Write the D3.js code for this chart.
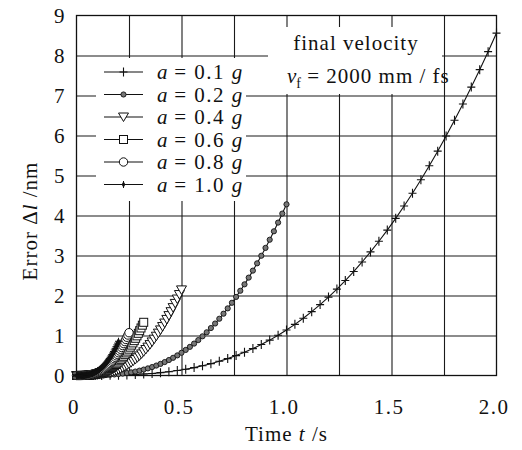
<!DOCTYPE html>
<html><head><meta charset="utf-8">
<script src="https://cdn.jsdelivr.net/npm/d3@7"></script>
<style>
body{margin:0;background:#fff;}
svg{display:block;font-family:"Liberation Serif","Times New Roman",serif;}
</style></head>
<body><svg id="c" width="522" height="450"></svg>
<script>
// ---- data ----
const legendLabels = ["0.1","0.2","0.4","0.6","0.8","1.0"];
const t01 = [0,0.04,0.08,0.12,0.16,0.2,0.24,0.28,0.32,0.36,0.4,0.44,0.48,0.52,0.56,0.6,0.64,0.68,0.72,0.76,0.8,0.84,0.88,0.92,0.96,1.0,1.04,1.08,1.12,1.16,1.2,1.24,1.28,1.32,1.36,1.4,1.44,1.48,1.52,1.56,1.6,1.64,1.68,1.72,1.76,1.8,1.84,1.88,1.92,1.96,2.0];
const e01 = [0,0.0001,0.0006,0.0019,0.0045,0.0088,0.0152,0.0242,0.0362,0.0518,0.0712,0.0951,0.1237,0.1577,0.1974,0.2433,0.2958,0.3553,0.4224,0.4974,0.5807,0.6728,0.7741,0.8849,1.0057,1.1369,1.2787,1.4316,1.5959,1.7719,1.9599,2.1603,2.3732,2.599,2.838,3.0902,3.356,3.6356,3.929,4.2364,4.558,4.8939,5.244,5.6085,5.9874,6.3806,6.7882,7.21,7.646,8.0961,8.56];
const t02 = [0,0.02,0.04,0.06,0.08,0.1,0.12,0.14,0.16,0.18,0.2,0.22,0.24,0.26,0.28,0.3,0.32,0.34,0.36,0.38,0.4,0.42,0.44,0.46,0.48,0.5,0.52,0.54,0.56,0.58,0.6,0.62,0.64,0.66,0.68,0.7,0.72,0.74,0.76,0.78,0.8,0.82,0.84,0.86,0.88,0.9,0.92,0.94,0.96,0.98,1.0];
const e02 = [0,0.00003,0.0003,0.0009,0.0022,0.0044,0.0076,0.0121,0.0181,0.0259,0.0356,0.0475,0.0619,0.0788,0.0987,0.1216,0.1479,0.1777,0.2112,0.2487,0.2904,0.3364,0.387,0.4425,0.5028,0.5684,0.6394,0.7158,0.7979,0.8859,0.98,1.0801,1.1866,1.2995,1.419,1.5451,1.678,1.8178,1.9645,2.1182,2.279,2.4469,2.622,2.8042,2.9937,3.1903,3.3941,3.605,3.823,4.048,4.28];
const t04 = [0,0.01,0.02,0.03,0.04,0.05,0.06,0.07,0.08,0.09,0.1,0.11,0.12,0.13,0.14,0.15,0.16,0.17,0.18,0.19,0.2,0.21,0.22,0.23,0.24,0.25,0.26,0.27,0.28,0.29,0.3,0.31,0.32,0.33,0.34,0.35,0.36,0.37,0.38,0.39,0.4,0.41,0.42,0.43,0.44,0.45,0.46,0.47,0.48,0.49,0.5];
const e04 = [0,0.00002,0.00014,0.0005,0.0011,0.0022,0.0038,0.0061,0.0091,0.0129,0.0178,0.0238,0.0309,0.0394,0.0493,0.0608,0.0739,0.0888,0.1056,0.1243,0.1452,0.1682,0.1935,0.2212,0.2514,0.2842,0.3197,0.3579,0.399,0.443,0.49,0.5401,0.5933,0.6498,0.7095,0.7726,0.839,0.9089,0.9823,1.0591,1.1395,1.2235,1.311,1.4021,1.4969,1.5952,1.6971,1.8025,1.9115,2.024,2.14];
const t06 = [0,0.0064,0.0128,0.0192,0.0256,0.032,0.0384,0.0448,0.0512,0.0576,0.064,0.0704,0.0768,0.0832,0.0896,0.096,0.1024,0.1088,0.1152,0.1216,0.128,0.1344,0.1408,0.1472,0.1536,0.16,0.1664,0.1728,0.1792,0.1856,0.192,0.1984,0.2048,0.2112,0.2176,0.224,0.2304,0.2368,0.2432,0.2496,0.256,0.2624,0.2688,0.2752,0.2816,0.288,0.2944,0.3008,0.3072,0.3136,0.32];
const e06 = [0,0.00001,0.00009,0.0003,0.0007,0.0014,0.0024,0.0038,0.0056,0.008,0.0111,0.0148,0.0192,0.0245,0.0307,0.0378,0.046,0.0552,0.0656,0.0773,0.0902,0.1045,0.1203,0.1375,0.1563,0.1766,0.1987,0.2224,0.248,0.2753,0.3045,0.3356,0.3687,0.4038,0.4409,0.4801,0.5214,0.5649,0.6105,0.6582,0.7082,0.7604,0.8148,0.8714,0.9303,0.9914,1.0547,1.1203,1.188,1.2579,1.33];
const t08 = [0,0.005,0.01,0.015,0.02,0.025,0.03,0.035,0.04,0.045,0.05,0.055,0.06,0.065,0.07,0.075,0.08,0.085,0.09,0.095,0.1,0.105,0.11,0.115,0.12,0.125,0.13,0.135,0.14,0.145,0.15,0.155,0.16,0.165,0.17,0.175,0.18,0.185,0.19,0.195,0.2,0.205,0.21,0.215,0.22,0.225,0.23,0.235,0.24,0.245,0.25];
const e08 = [0,0.00001,0.00008,0.0002,0.0006,0.0011,0.0019,0.003,0.0045,0.0065,0.0089,0.0119,0.0155,0.0197,0.0247,0.0304,0.037,0.0444,0.0528,0.0622,0.0726,0.0841,0.0968,0.1106,0.1257,0.1421,0.1598,0.179,0.1995,0.2215,0.245,0.27,0.2967,0.3249,0.3548,0.3863,0.4195,0.4545,0.4911,0.5296,0.5698,0.6117,0.6555,0.7011,0.7484,0.7976,0.8485,0.9013,0.9558,1.012,1.07];
const t10 = [0,0.004,0.008,0.012,0.016,0.02,0.024,0.028,0.032,0.036,0.04,0.044,0.048,0.052,0.056,0.06,0.064,0.068,0.072,0.076,0.08,0.084,0.088,0.092,0.096,0.1,0.104,0.108,0.112,0.116,0.12,0.124,0.128,0.132,0.136,0.14,0.144,0.148,0.152,0.156,0.16,0.164,0.168,0.172,0.176,0.18,0.184,0.188,0.192,0.196,0.2];
const e10 = [0,0.00001,0.00006,0.0002,0.0004,0.0009,0.0015,0.0024,0.0036,0.0052,0.0071,0.0095,0.0124,0.0158,0.0197,0.0243,0.0296,0.0355,0.0422,0.0497,0.0581,0.0673,0.0774,0.0885,0.1006,0.1137,0.1279,0.1432,0.1596,0.1772,0.196,0.216,0.2373,0.2599,0.2838,0.309,0.3356,0.3636,0.3929,0.4236,0.4558,0.4894,0.5244,0.5609,0.5987,0.6381,0.6788,0.721,0.7646,0.8096,0.856];
const xTicks = [0,0.5,1.0,1.5,2.0];
const xTickLabels = ["0","0.5","1.0","1.5","2.0"];
const xGrid = [0.25,0.5,0.75,1.0,1.25,1.5,1.75];
const yTicks = [0,1,2,3,4,5,6,7,8,9];
const yGrid = [1,2,3,4,5,6,7,8];

// ---- setup ----
const svg = d3.select("#c");
const L=76.5, R=496.5, T=15.5, B=375.5;
const x = d3.scaleLinear().domain([0,2]).range([L,R]);
const y = d3.scaleLinear().domain([0,9]).range([B,T]);
const FS = 21;

// grid
svg.append("g").attr("transform",`translate(0,${B})`)
  .call(d3.axisBottom(x).tickValues(xGrid).tickSize(-(B-T)).tickFormat(""))
  .call(g=>g.select(".domain").remove())
  .call(g=>g.selectAll("line").attr("stroke","#1a1a1a").attr("stroke-width",1.1));
svg.append("g").attr("transform",`translate(${L},0)`)
  .call(d3.axisLeft(y).tickValues(yGrid).tickSize(-(R-L)).tickFormat(""))
  .call(g=>g.select(".domain").remove())
  .call(g=>g.selectAll("line").attr("stroke","#1a1a1a").attr("stroke-width",1.1));

// frame
svg.append("rect").attr("x",L).attr("y",T).attr("width",R-L).attr("height",B-T)
  .attr("fill","none").attr("stroke","#111").attr("stroke-width",1.3);

// tick labels
svg.append("g").attr("transform",`translate(0,${B})`)
  .call(d3.axisBottom(x).tickValues(xTicks).tickSize(0).tickPadding(24).tickFormat((d,i)=>xTickLabels[i]))
  .call(g=>g.select(".domain").remove())
  .call(g=>g.selectAll("text").attr("font-family","Liberation Serif").attr("font-size",FS)
     .attr("letter-spacing","1.5px").attr("fill","#111").attr("dx",-3));
svg.append("g").attr("transform",`translate(${L},0)`)
  .call(d3.axisLeft(y).tickValues(yTicks).tickSize(0).tickPadding(12))
  .call(g=>g.select(".domain").remove())
  .call(g=>g.selectAll("text").attr("font-family","Liberation Serif").attr("font-size",FS).attr("fill","#111"));

// axis titles
const xt = svg.append("text").attr("x",(L+R)/2).attr("y",441).attr("text-anchor","middle")
  .attr("font-size",FS).attr("letter-spacing","1px").attr("fill","#111");
xt.append("tspan").text("Time ");
xt.append("tspan").attr("font-style","italic").text("t");
xt.append("tspan").text(" /s");
const yt = svg.append("text").attr("transform","translate(37,221) rotate(-90)").attr("text-anchor","middle")
  .attr("font-size",FS).attr("letter-spacing","1px").attr("fill","#111");
yt.append("tspan").text("Error Δ");
yt.append("tspan").attr("font-style","italic").text("l");
yt.append("tspan").text(" /nm");

// legend & annotation backgrounds
svg.append("rect").attr("x",96).attr("y",58).attr("width",150).attr("height",143).attr("fill","#fff");
svg.append("rect").attr("x",268).attr("y",27).attr("width",174).attr("height",67).attr("fill","#fff");

// marker drawers
const markers = [
  (g)=>g.append("path").attr("d","M-4,0H4M0,-4.5V4.5").attr("stroke","#111").attr("stroke-width",1.1).attr("fill","none"),
  (g)=>g.append("circle").attr("r",2.6).attr("fill","#777").attr("stroke","#111").attr("stroke-width",0.9),
  (g)=>g.append("path").attr("d","M-5,-4H5L0,4.5Z").attr("stroke","#111").attr("stroke-width",1).attr("fill","#fff"),
  (g)=>g.append("rect").attr("x",-4).attr("y",-4).attr("width",8).attr("height",8).attr("stroke","#111").attr("stroke-width",1).attr("fill","#fff"),
  (g)=>g.append("circle").attr("r",4.2).attr("fill","#fff").attr("stroke","#111").attr("stroke-width",1),
  (g)=>g.append("path").attr("d","M-3.5,0H3.5M0,-3.5V3.5").attr("stroke","#111").attr("stroke-width",1)
        .select(function(){ return this.parentNode; })
        .append("path").attr("d",d3.symbol(d3.symbolDiamond,12)()).attr("fill","#111")
];

const seriesT = [t01,t02,t04,t06,t08,t10];
const seriesE = [e01,e02,e04,e06,e08,e10];
const line = d3.line().x(d=>x(d[0])).y(d=>y(d[1]));

// draw series in order (0.1 g first, 1.0 g last on top)
for (let s=0; s<6; s++) {
  const pts = seriesT[s].map((t,i)=>[t,seriesE[s][i]]);
  const g = svg.append("g");
  g.append("path").attr("d",line(pts)).attr("fill","none").attr("stroke","#111").attr("stroke-width",1.1);
  g.selectAll("g.m").data(pts).enter().append("g").attr("class","m")
    .attr("transform",d=>`translate(${x(d[0])},${y(d[1])})`)
    .each(function(){ markers[s](d3.select(this)); });
}

// legend
const rowY = [72,94.5,117,139.5,162,184.5];
legendLabels.forEach((lab,i)=>{
  const g = svg.append("g").attr("transform",`translate(0,${rowY[i]})`);
  g.append("line").attr("x1",104).attr("x2",143).attr("y1",0).attr("y2",0).attr("stroke","#111").attr("stroke-width",1.1);
  const m = g.append("g").attr("transform","translate(123.5,0)");
  markers[i](m);
  const tx = g.append("text").attr("x",157).attr("y",7).attr("font-size",FS).attr("fill","#111");
  tx.append("tspan").attr("font-style","italic").text("a");
  tx.append("tspan").attr("letter-spacing","1.5px").text(" = " + lab + " ");
  tx.append("tspan").attr("font-style","italic").text("g");
});

// annotation
svg.append("text").attr("x",356).attr("y",50).attr("text-anchor","middle").attr("font-size",FS)
  .attr("letter-spacing","1px").attr("fill","#111").text("final velocity");
const an = svg.append("text").attr("x",287).attr("y",83).attr("font-size",FS).attr("fill","#111");
an.append("tspan").attr("font-style","italic").text("v");
an.append("tspan").attr("font-size",14).attr("dy",5).text("f");
an.append("tspan").attr("dy",-5).attr("letter-spacing","1px").text(" = 2000 mm / fs");
</script></body></html>
